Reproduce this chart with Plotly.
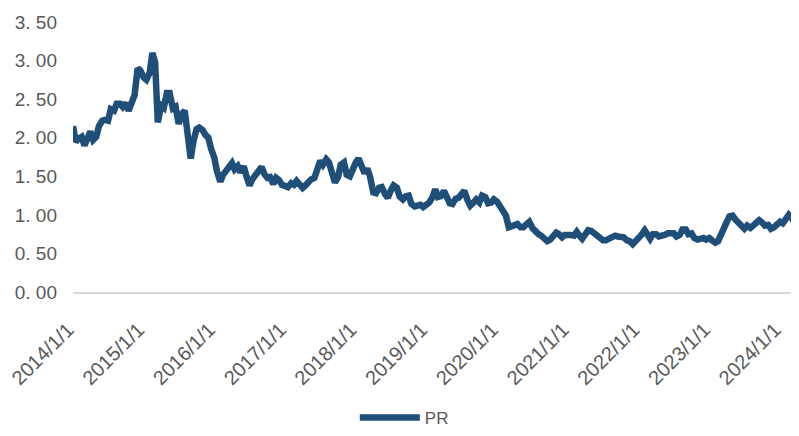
import pandas as pd
import plotly.graph_objects as go

start_date = "2014-01-01"

pb_2014 = [2.15, 1.95, 1.99, 2.01, 1.90, 1.99, 2.08, 1.97, 2.01, 2.15, 2.22, 2.23,
           2.22, 2.37, 2.35, 2.44, 2.44, 2.40, 2.45, 2.35, 2.48, 2.55, 2.90, 2.87]
pb_2015 = [2.78, 2.75, 2.84, 3.10, 2.98, 2.20, 2.42, 2.39, 2.58, 2.58, 2.38, 2.40,
           2.18, 2.30, 2.35, 1.98, 1.73, 1.95, 2.11, 2.13, 2.10, 2.04, 2.00, 1.86]
pb_2016 = [1.74, 1.56, 1.43, 1.52, 1.57, 1.63, 1.67, 1.59, 1.63, 1.55, 1.63, 1.50,
           1.38, 1.46, 1.52, 1.56, 1.62, 1.53, 1.48, 1.49, 1.40, 1.48, 1.45, 1.39]
pb_2017 = [1.36, 1.36, 1.41, 1.39, 1.44, 1.41, 1.35, 1.38, 1.44, 1.46, 1.48, 1.62,
           1.70, 1.65, 1.72, 1.68, 1.50, 1.42, 1.49, 1.65, 1.68, 1.52, 1.50, 1.60]
pb_2018 = [1.68, 1.73, 1.62, 1.54, 1.60, 1.50, 1.29, 1.28, 1.35, 1.36, 1.27, 1.22,
           1.32, 1.38, 1.35, 1.24, 1.20, 1.24, 1.25, 1.14, 1.11, 1.13, 1.13, 1.10]
pb_2019 = [1.13, 1.16, 1.23, 1.33, 1.23, 1.24, 1.31, 1.24, 1.15, 1.14, 1.21, 1.22,
           1.28, 1.31, 1.19, 1.12, 1.16, 1.20, 1.16, 1.25, 1.23, 1.15, 1.16, 1.20]
pb_2020 = [1.17, 1.12, 1.06, 0.99, 0.84, 0.85, 0.85, 0.88, 0.84, 0.84, 0.88, 0.91,
           0.83, 0.78, 0.75, 0.73, 0.69, 0.66, 0.68, 0.71, 0.77, 0.75, 0.71, 0.74]
pb_2021 = [0.75, 0.74, 0.73, 0.78, 0.73, 0.69, 0.75, 0.80, 0.79, 0.76, 0.74, 0.71,
           0.67, 0.67, 0.70, 0.71, 0.73, 0.72, 0.72, 0.71, 0.67, 0.66, 0.62, 0.65]
pb_2022 = [0.70, 0.74, 0.80, 0.76, 0.69, 0.75, 0.75, 0.72, 0.72, 0.74, 0.76, 0.77,
           0.76, 0.72, 0.74, 0.81, 0.81, 0.75, 0.76, 0.70, 0.68, 0.69, 0.70, 0.68]
pb_2023 = [0.70, 0.67, 0.64, 0.66, 0.75, 0.82, 0.91, 0.98, 0.99, 0.94, 0.90, 0.85,
           0.82, 0.86, 0.83, 0.86, 0.89, 0.93, 0.90, 0.86, 0.87, 0.82, 0.84, 0.87]
pb_2024 = [0.91, 0.89, 0.94, 1.00, 0.96, 0.89, 0.84]

pb_values = (pb_2014 + pb_2015 + pb_2016 + pb_2017 + pb_2018 + pb_2019 +
             pb_2020 + pb_2021 + pb_2022 + pb_2023 + pb_2024)
dates = pd.date_range(start=start_date, periods=len(pb_values), freq="SMS")

tick_years = list(range(2014, 2025))
tick_labels = [f"{y}/1/1" for y in tick_years]
y_ticks = [0, 0.5, 1.0, 1.5, 2.0, 2.5, 3.0, 3.5]
y_tick_labels = ["0. 00", "0. 50", "1. 00", "1. 50", "2. 00", "2. 50", "3. 00", "3. 50"]

series_name = "PR"

fig = go.Figure()
fig.add_trace(go.Scatter(
    x=dates, y=pb_values, mode="lines", name=series_name,
    line=dict(color="#1F4E79", width=6.5),
))

# the page body has an 8px default margin, so the figure is sized to fit the window
font_family = "Liberation Sans, Arial, sans-serif"
fig.update_layout(
    width=791, height=428,
    margin=dict(l=65, r=0, t=14, b=144, autoexpand=False),
    paper_bgcolor="white", plot_bgcolor="white",
    font=dict(family=font_family, color="#595959", size=19),
    showlegend=True,
    legend=dict(orientation="h", xref="container", yref="container",
                x=0.501, xanchor="center", y=-0.012, yanchor="bottom",
                font=dict(size=17, color="#595959"), itemwidth=60,
                tracegroupgap=0),
    xaxis=dict(
        type="date", range=["2014-01-01", "2024-04-08"],
        tickvals=[pd.Timestamp(f"{y}-01-01") for y in tick_years],
        ticktext=tick_labels, tickangle=-45,
        showgrid=False, zeroline=False, automargin=False,
        showline=True, linecolor="#d9d9d9", linewidth=2,
        ticks="", ticklabelstandoff=16, ticklabelshift=-5,
        ticklabeloverflow="allow",
        tickfont=dict(size=20, color="#595959"),
    ),
    yaxis=dict(
        range=[0, 3.5], tickvals=y_ticks, ticktext=y_tick_labels,
        showgrid=False, zeroline=False, showline=False, automargin=False,
        ticks="", ticklabelstandoff=15,
        tickfont=dict(size=19, color="#595959"),
    ),
)

fig.write_html("out.html")
